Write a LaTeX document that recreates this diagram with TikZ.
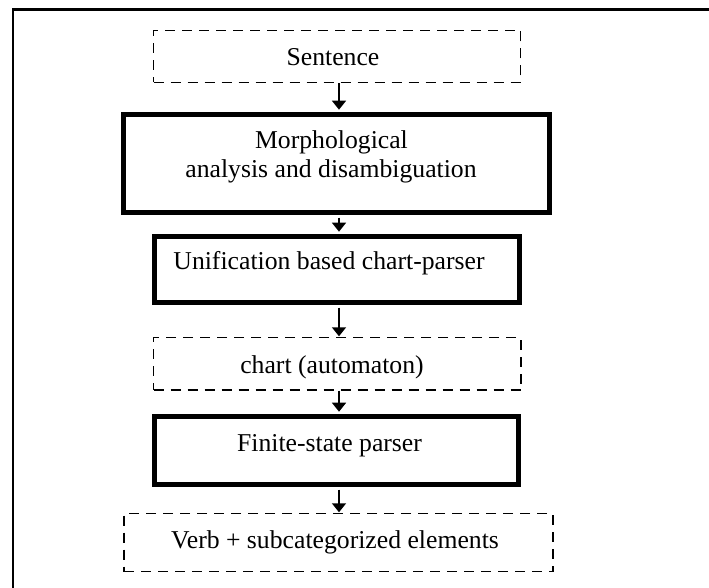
\documentclass[tikz,border=0pt]{standalone}
\usepackage{fontspec}
\setmainfont{Liberation Serif}
\usetikzlibrary{arrows.meta}
\begin{document}
\begin{tikzpicture}[x=1pt,y=-1pt,
  thickbox/.style={draw, line width=5pt, rectangle, inner sep=0pt},
  dashbox/.style={draw, line width=1.4pt, dash pattern=on 10pt off 7pt, rectangle, inner sep=0pt},
  lbl/.style={anchor=base, inner sep=0pt, font=\fontsize{25.7}{29}\selectfont},
  flow/.style={line width=1.5pt, -{Triangle[width=14pt,length=9pt]}}]
\useasboundingbox (0,0) rectangle (709,588);
% outer frame (cut at right and bottom)
\draw[line width=2.5pt] (13,600) -- (13,9.5) -- (720,9.5);
% boxes
\node[dashbox, minimum width=367pt, minimum height=52pt] (sent) at (337,56.5) {};
\node[thickbox, minimum width=426pt, minimum height=98pt] (morph) at (336.5,163.5) {};
\node[thickbox, minimum width=365pt, minimum height=66pt] (unif) at (337,269.5) {};
\node[dashbox, minimum width=367.5pt, minimum height=52.5pt] (chart) at (337.25,363.75) {};
\node[thickbox, minimum width=364pt, minimum height=68pt] (fsp) at (336.5,450.5) {};
\node[dashbox, minimum width=429pt, minimum height=58pt] (verb) at (338.5,542.5) {};
% texts
\node[lbl] (tsent) at (333,66) {Sentence};
\node[lbl] (tmorph1) at (331.5,149) {Morphological};
\node[lbl] (tmorph2) at (331,178) {analysis and disambiguation};
\node[lbl] (tunif) at (329,269) {Unification based chart-parser};
\node[lbl] (tchart) at (332,373) {chart (automaton)};
\node[lbl] (tfsp) at (329.5,451) {Finite-state parser};
\node[lbl] (tverb) at (335,548) {Verb + subcategorized elements};
% arrows
\coordinate (ax) at (339,0);
\draw[flow, shorten >=2.3pt] (sent.south -| ax) -- (morph.north -| ax);
\draw[flow, shorten <=2.5pt, shorten >=2.3pt] (morph.south -| ax) -- (unif.north -| ax);
\draw[flow, shorten <=2.5pt, shorten >=0.5pt] (unif.south -| ax) -- (chart.north -| ax);
\draw[flow, shorten >=2.3pt] (chart.south -| ax) -- (fsp.north -| ax);
\draw[flow, shorten <=2.5pt, shorten >=0.5pt] (fsp.south -| ax) -- (verb.north -| ax);
\end{tikzpicture}
\end{document}
